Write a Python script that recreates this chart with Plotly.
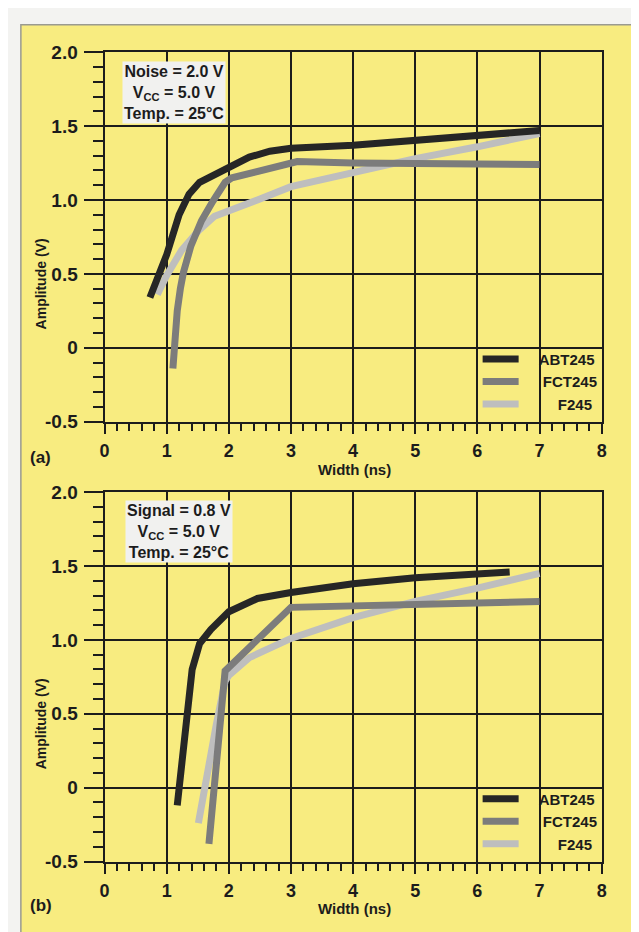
import plotly.graph_objects as go

# ---------------- data ----------------
series_names = ["ABT245", "FCT245", "F245"]

# panel (a): Noise = 2.0 V
a_abt_x = [0.73, 0.85, 1.0, 1.2, 1.36, 1.53, 1.77, 2.0, 2.33, 2.66, 3.0, 4.0, 5.0, 6.0, 7.0]
a_abt_y = [0.34, 0.47, 0.63, 0.90, 1.04, 1.12, 1.17, 1.22, 1.29, 1.33, 1.35, 1.37, 1.40, 1.43, 1.47]
a_fct_x = [1.10, 1.13, 1.17, 1.22, 1.27, 1.39, 1.56, 1.74, 1.94, 2.05, 2.5, 3.1, 4.0, 5.0, 6.0, 7.0]
a_fct_y = [-0.14, 0.05, 0.25, 0.40, 0.51, 0.69, 0.86, 0.99, 1.12, 1.15, 1.20, 1.26, 1.25, 1.25, 1.25, 1.24]
a_f_x = [0.85, 1.0, 1.24, 1.53, 1.77, 2.0, 2.46, 3.0, 4.0, 5.0, 6.0, 7.0]
a_f_y = [0.36, 0.49, 0.66, 0.80, 0.89, 0.93, 1.00, 1.09, 1.19, 1.28, 1.36, 1.45]

# panel (b): Signal = 0.8 V
b_abt_x = [1.17, 1.27, 1.36, 1.41, 1.53, 1.71, 2.0, 2.46, 3.0, 4.0, 5.0, 6.0, 6.52]
b_abt_y = [-0.12, 0.23, 0.56, 0.80, 0.975, 1.07, 1.19, 1.28, 1.32, 1.38, 1.42, 1.44, 1.46]
b_fct_x = [1.68, 1.81, 1.94, 3.0, 4.0, 5.0, 6.0, 7.0]
b_fct_y = [-0.38, 0.20, 0.79, 1.22, 1.23, 1.24, 1.25, 1.26]
b_f_x = [1.51, 1.65, 1.80, 1.94, 2.0, 2.33, 2.66, 3.0, 4.0, 5.0, 6.0, 7.0]
b_f_y = [-0.24, 0.10, 0.43, 0.72, 0.76, 0.88, 0.95, 1.01, 1.15, 1.26, 1.35, 1.45]

y_tickvals = [-0.5, 0, 0.5, 1.0, 1.5, 2.0]
y_ticktext = ["-0.5", "0", "0.5", "1.0", "1.5", "2.0"]
x_tickvals = [0, 1, 2, 3, 4, 5, 6, 7, 8]
x_ticktext = ["0", "1", "2", "3", "4", "5", "6", "7", "8"]

note_a = ["Noise = 2.0 V", "V<sub>CC</sub> = 5.0 V", "Temp. = 25°C"]
note_b = ["Signal = 0.8 V", "V<sub>CC</sub> = 5.0 V", "Temp. = 25°C"]

# ---------------- styling ----------------
W, H = 639, 932
FONT = "Liberation Sans, Arial, Helvetica, sans-serif"
INK = "#1c1c1c"
YELLOW = "#f8ec80"
PLOTBG = "#f1f1ef"
colors = {"ABT245": "#262626", "FCT245": "#7c7c7c", "F245": "#bebebe"}
# leading spaces push the legend label away from its swatch, padding right-aligns it
legend_label = {"ABT245": "\u2003ABT245", "FCT245": "\u2003 FCT245", "F245": "\u2003\u2003 F245"}
LW = 7

fig = go.Figure()

panels = [
    ("x", "y", "legend", [(a_f_x, a_f_y, "F245"), (a_fct_x, a_fct_y, "FCT245"), (a_abt_x, a_abt_y, "ABT245")]),
    ("x2", "y2", "legend2", [(b_f_x, b_f_y, "F245"), (b_fct_x, b_fct_y, "FCT245"), (b_abt_x, b_abt_y, "ABT245")]),
]
for xa, ya, lg, trs in panels:
    for xs, ys, nm in trs:
        fig.add_trace(go.Scatter(
            x=xs, y=ys, name=legend_label[nm], mode="lines", xaxis=xa, yaxis=ya, legend=lg,
            line=dict(color=colors[nm], width=LW), hoverinfo="skip",
        ))

def px_x(p):
    return p / W

def px_y(p):
    return (H - p) / H

x_dom = [px_x(93), px_x(598)]
top_dom = [px_y(413), px_y(35)]
bot_dom = [px_y(863), px_y(485)]

xaxis_common = dict(
    range=[0, 8], tickmode="array", tickvals=x_tickvals, ticktext=x_ticktext,
    showgrid=True, gridcolor=INK, gridwidth=2, zeroline=False,
    showline=True, linecolor=INK, linewidth=2, mirror=True,
    ticks="outside", ticklen=10, tickwidth=2, tickcolor=INK,
    minor=dict(dtick=0.2, tick0=0, ticks="outside", ticklen=7, tickwidth=2, tickcolor=INK, showgrid=False),
    tickfont=dict(family=FONT, size=18, color=INK, weight="bold"),
    ticklabelstandoff=2, fixedrange=True,
)
yaxis_common = dict(
    range=[-0.5, 2.0], tickmode="array", tickvals=y_tickvals, ticktext=y_ticktext,
    showgrid=True, gridcolor=INK, gridwidth=2, zeroline=False,
    showline=True, linecolor=INK, linewidth=2, mirror=True,
    ticks="outside", ticklen=19, tickwidth=2, tickcolor=INK,
    minor=dict(dtick=0.1, tick0=0, ticks="outside", ticklen=10, tickwidth=2, tickcolor=INK, showgrid=False),
    tickfont=dict(family=FONT, size=19, color=INK, weight="bold"),
    ticklabelstandoff=2, fixedrange=True,
)

fig.update_layout(
    xaxis=dict(domain=x_dom, anchor="y", **xaxis_common),
    yaxis=dict(domain=top_dom, anchor="x", **yaxis_common),
    xaxis2=dict(domain=x_dom, anchor="y2", **xaxis_common),
    yaxis2=dict(domain=bot_dom, anchor="x2", **yaxis_common),
)

legend_common = dict(
    xref="paper", yref="paper", xanchor="right", yanchor="bottom",
    bgcolor="rgba(0,0,0,0)", borderwidth=0, traceorder="reversed",
    font=dict(family=FONT, size=15, color=INK, weight="bold"),
    itemwidth=36, tracegroupgap=0, itemclick=False, itemdoubleclick=False,
)
fig.update_layout(
    legend=dict(x=px_x(599), y=px_y(412), **legend_common),
    legend2=dict(x=px_x(599), y=px_y(862), **legend_common),
)

annotations = []
for txt_lines, xa, ya, xv in [(note_a, "x", "y", 1.11), (note_b, "x2", "y2", 1.20)]:
    annotations.append(dict(
        text="<br>".join(txt_lines), xref=xa, yref=ya, x=xv, y=1.73,
        showarrow=False, align="center", bgcolor=PLOTBG, borderpad=1,
        font=dict(family=FONT, size=16, color=INK, weight="bold"),
    ))
# axis titles and panel tags
for y_center, x_lab_y, tag_y, tag in [(272, 462, 450, "(a)"), (722, 911, 908, "(b)")]:
    annotations.append(dict(
        text="Amplitude (V)", xref="paper", yref="paper", x=px_x(28), y=px_y(y_center),
        textangle=-90, showarrow=False, xanchor="center", yanchor="middle",
        font=dict(family=FONT, size=14, color=INK, weight="bold"),
    ))
    annotations.append(dict(
        text="Width (ns)", xref="paper", yref="paper", x=px_x(347), y=px_y(x_lab_y),
        showarrow=False, xanchor="center", yanchor="middle",
        font=dict(family=FONT, size=15, color=INK, weight="bold"),
    ))
    annotations.append(dict(
        text=tag, xref="paper", yref="paper", x=px_x(28), y=px_y(tag_y),
        showarrow=False, xanchor="center", yanchor="middle",
        font=dict(family=FONT, size=17, color=INK, weight="bold"),
    ))

fig.update_layout(
    width=W, height=H, autosize=False,
    margin=dict(l=0, r=0, t=0, b=0),
    paper_bgcolor="#f3f3f1", plot_bgcolor=PLOTBG,
    showlegend=True, annotations=annotations,
    shapes=[dict(
        type="rect", xref="paper", yref="paper", layer="below",
        x0=px_x(8), x1=1.02, y0=-0.02, y1=px_y(7),
        fillcolor=YELLOW, line=dict(color="#9a9a90", width=1.5),
    )],
)

fig.write_html("out.html", include_plotlyjs=True, config={"displayModeBar": False})
